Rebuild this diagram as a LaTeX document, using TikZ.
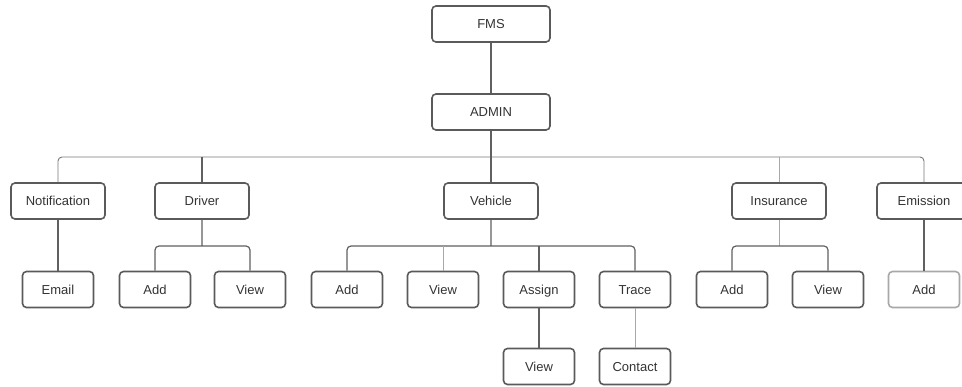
\documentclass[tikz,border=0pt]{standalone}
\usepackage{fontspec}
\setmainfont{Liberation Sans}
\usetikzlibrary{positioning}
\definecolor{boxgray}{HTML}{5A5A5A}
\definecolor{linegray}{HTML}{606060}
\definecolor{fadegray}{HTML}{A8A8A8}
\tikzset{box/.style={draw=boxgray, line width=1.6pt, rounded corners=4pt, minimum width=94pt, minimum height=36pt, inner sep=0pt, text height=9.3pt, text depth=0pt, font=\fontsize{13}{15}\selectfont, text=black!80},
small/.style={box, minimum width=71pt},
wide/.style={box, minimum width=118pt},
conn/.style={draw=linegray, line width=1.2pt, rounded corners=4pt},
bus/.style={draw=linegray!85, line width=0.9pt, rounded corners=4pt},
faint/.style={draw=fadegray, line width=1pt}}
\begin{document}
\begin{tikzpicture}[x=1pt,y=-1pt]
\useasboundingbox (0,0) rectangle (962,387);
% top
\node[wide] (fms) at (491,24) {FMS};
\node[wide] (admin) at (491,112) {ADMIN};
% second level
\node[box] (notif) at (58,201) {Notification};
\node[box] (driver) at (202,201) {Driver};
\node[box] (vehicle) at (491,201) {Vehicle};
\node[box] (insur) at (779,201) {Insurance};
\node[box] (emis) at (924,201) {Emission};
% third level
\node[small] (email) at (58,289.5) {Email};
\node[small] (dadd) at (155,289.5) {Add};
\node[small] (dview) at (250,289.5) {View};
\node[small] (vadd) at (347,289.5) {Add};
\node[small] (vview) at (443,289.5) {View};
\node[small] (vassign) at (539,289.5) {Assign};
\node[small] (vtrace) at (635,289.5) {Trace};
\node[small] (iadd) at (732,289.5) {Add};
\node[small] (iview) at (828,289.5) {View};
\node[small, draw=fadegray] (eadd) at (924,289.5) {Add};
% fourth level
\node[small] (aview) at (539,366.5) {View};
\node[small] (contact) at (635,366.5) {Contact};
% buses
\coordinate (bus0) at (491,157);
\coordinate (bus1) at (202,246);
\coordinate (bus2) at (491,246);
\coordinate (bus3) at (779,246);
\draw[conn] (fms) -- (admin);
\draw[bus] (notif) |- (bus0) -| (emis);
\draw[conn] (admin) -- (vehicle);
\draw[conn] (driver) -- (driver |- bus0);
\draw[faint] (insur) -- (insur |- bus0);
\draw[conn] (notif) -- (email);
\draw[conn] (dadd) |- (bus1) -| (dview) (driver) -- (bus1);
\draw[conn] (vadd) |- (bus2) -| (vtrace) (vehicle) -- (bus2);
\draw[faint] (vview) -- (vview |- bus2);
\draw[conn] (vassign) -- (vassign |- bus2);
\draw[conn] (vassign) -- (aview);
\draw[faint] (vtrace) -- (contact);
\draw[faint] (insur) -- (bus3);
\draw[conn] (iadd) |- (bus3) -| (iview);
\draw[conn] (emis) -- (eadd);
\end{tikzpicture}
\end{document}
